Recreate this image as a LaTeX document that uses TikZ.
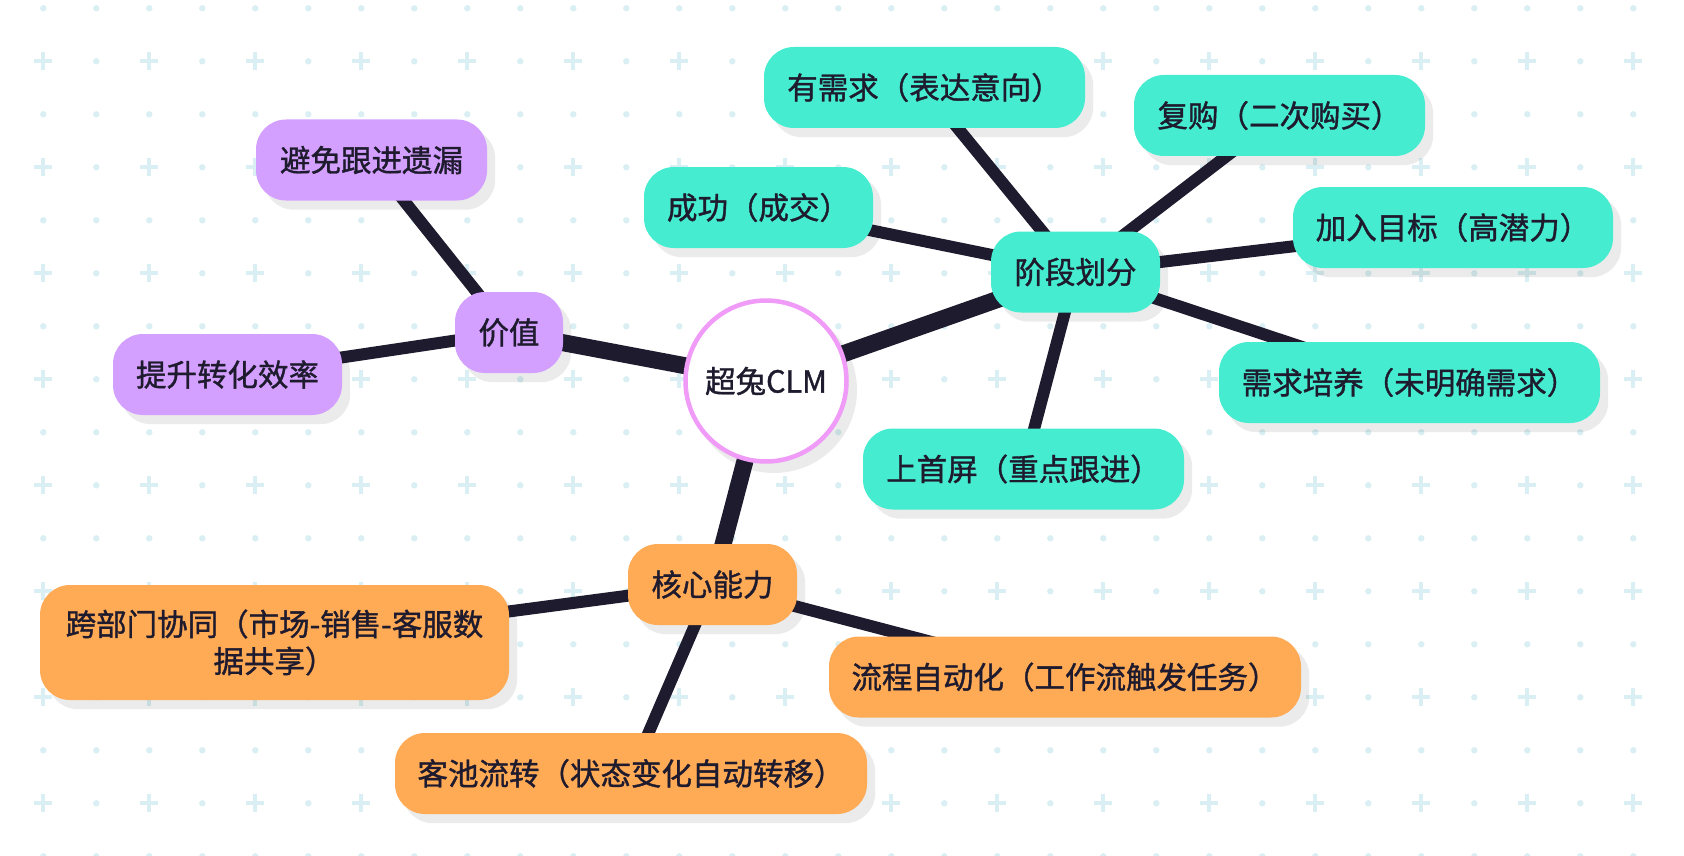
\documentclass[tikz,border=0pt]{standalone}
\usepackage{fontspec}
\setmainfont{Noto Sans CJK SC}[FakeBold=1.2]
\usetikzlibrary{calc}
\definecolor{ink}{HTML}{1F1B2E}
\definecolor{teal}{HTML}{45ECCF}
\definecolor{lilac}{HTML}{D4A0FF}
\definecolor{apricot}{HTML}{FFAA55}
\definecolor{pinkring}{HTML}{EF9BF7}
\definecolor{gridc}{HTML}{D9EFF3}
\pgfdeclarelayer{gridlayer}
\pgfdeclarelayer{shadowlayer}
\pgfdeclarelayer{linelayer}
\pgfsetlayers{gridlayer,shadowlayer,linelayer,main}
\tikzset{
  box/.style={rounded corners=30, minimum height=81, inner xsep=22, inner ysep=0,
    font=\fontsize{30.5}{37}\selectfont, text=ink, align=center},
  tealbox/.style={box, fill=teal},
  lilacbox/.style={box, fill=lilac},
  orangebox/.style={box, fill=apricot},
  mainline/.style={draw=ink, line width=17},
  subline/.style={draw=ink, line width=12},
  shade/.style={fill=black, fill opacity=0.08},
}
\newcommand{\boxshadow}[1]{\fill[shade, rounded corners=30] ($(#1.south west)+(8,9)$) rectangle ($(#1.north east)+(8,9)$);}
\begin{document}
\begin{tikzpicture}[x=1pt,y=-1pt]
\useasboundingbox (0,0) rectangle (1684,856);
\begin{pgfonlayer}{gridlayer}
\fill[white] (0,0) rectangle (1684,856);
\foreach \j in {0,...,16}{
  \foreach \i in {0,...,30}{
    \pgfmathsetmacro\gx{43.3+53*\i}
    \pgfmathsetmacro\gy{8.3+53*\j}
    \ifodd\j\relax
      \ifodd\i\relax
        \fill[gridc] (\gx,\gy) circle (3.2);
      \else
        \draw[gridc, line width=3.7] (\gx-9,\gy) -- (\gx+9,\gy) (\gx,\gy-9) -- (\gx,\gy+9);
      \fi
    \else
      \fill[gridc] (\gx,\gy) circle (3.2);
    \fi
  }
}
\end{pgfonlayer}

% nodes
\node[circle, draw=pinkring, line width=4.5, fill=white, minimum size=161, inner sep=0,
  font=\fontsize{30.5}{37}\selectfont, text=ink] (clm) at (766,381) {超兔CLM};

\node[lilacbox, minimum width=231] (bimian) at (371.5,160) {避免跟进遗漏};
\node[lilacbox, minimum width=229] (tisheng) at (227.5,374.5) {提升转化效率};
\node[lilacbox, minimum width=108] (jiazhi) at (509,332.5) {价值};

\node[tealbox, minimum width=229] (chenggong) at (758.5,207.5) {成功（成交）};
\node[tealbox, minimum width=321] (xuqiu) at (924.5,87.5) {有需求（表达意向）};
\node[tealbox, minimum width=291] (fugou) at (1279.5,115.5) {复购（二次购买）};
\node[tealbox, minimum width=169] (jieduan) at (1075.5,272) {阶段划分};
\node[tealbox, minimum width=320] (jiaru) at (1453,227.5) {加入目标（高潜力）};
\node[tealbox, minimum width=381] (peiyang) at (1409.5,382.5) {需求培养（未明确需求）};
\node[tealbox, minimum width=321] (shouping) at (1023.5,469) {上首屏（重点跟进）};

\node[orangebox, minimum width=469, minimum height=115] (kuabumen) at (274.5,642.5) {跨部门协同（市场-销售-客服数\\据共享）};
\node[orangebox, minimum width=169] (hexin) at (712.5,584.5) {核心能力};
\node[orangebox, minimum width=472] (liucheng) at (1065,677) {流程自动化（工作流触发任务）};
\node[orangebox, minimum width=472] (kechi) at (631,773.5) {客池流转（状态变化自动转移）};

\begin{pgfonlayer}{shadowlayer}
\fill[shade] ($(clm.center)+(8,9)$) circle (83);
\boxshadow{bimian}
\boxshadow{tisheng}
\boxshadow{jiazhi}
\boxshadow{chenggong}
\boxshadow{xuqiu}
\boxshadow{fugou}
\boxshadow{jieduan}
\boxshadow{jiaru}
\boxshadow{peiyang}
\boxshadow{shouping}
\boxshadow{hexin}
\boxshadow{kuabumen}
\boxshadow{liucheng}
\boxshadow{kechi}
\end{pgfonlayer}

\begin{pgfonlayer}{linelayer}
\draw[mainline] (clm.center) -- (jiazhi.center);
\draw[mainline] (clm.center) -- (jieduan.center);
\draw[mainline] (clm.center) -- (hexin.center);
\draw[subline] (jiazhi.center) -- (bimian.center);
\draw[subline] (jiazhi.center) -- (tisheng.center);
\draw[subline] (jieduan.center) -- (chenggong.center);
\draw[subline] (jieduan.center) -- (xuqiu.center);
\draw[subline] (jieduan.center) -- (fugou.center);
\draw[subline] (jieduan.center) -- (jiaru.center);
\draw[subline] (jieduan.center) -- (peiyang.center);
\draw[subline] (jieduan.center) -- (shouping.center);
\draw[subline] (hexin.center) -- (kuabumen.center);
\draw[subline] (hexin.center) -- (liucheng.center);
\draw[subline] (hexin.center) -- (kechi.center);
\end{pgfonlayer}
\end{tikzpicture}
\end{document}
